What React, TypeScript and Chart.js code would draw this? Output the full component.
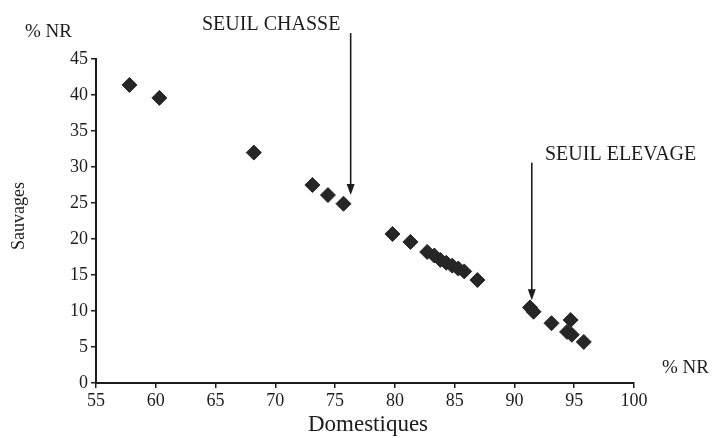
import React, { useEffect, useRef } from "react";
import { Chart, registerables } from "chart.js";

Chart.register(...registerables);

// Domestiques (% NR) vs Sauvages (% NR)
const domestiques = [57.8, 60.3, 68.2, 73.1, 74.4, 75.7, 79.8, 81.3, 82.7, 83.3, 83.8, 84.3, 84.8, 85.3, 85.8, 86.9, 91.3, 91.6, 93.1, 94.7, 94.4, 94.8, 95.8];
const sauvages = [41.4, 39.6, 32.0, 27.5, 26.1, 24.9, 20.7, 19.6, 18.2, 17.7, 17.1, 16.7, 16.3, 15.9, 15.5, 14.3, 10.5, 9.9, 8.3, 8.75, 7.1, 6.7, 5.7];

const xTicks = [55, 60, 65, 70, 75, 80, 85, 90, 95, 100];
const yTicks = [0, 5, 10, 15, 20, 25, 30, 35, 40, 45];

const thresholdLabels = ["SEUIL CHASSE", "SEUIL ELEVAGE"];
const thresholdX = [76.3, 91.45];
const thresholdTopY = [48.6, 30.6];
const thresholdTipY = [26.1, 11.5];

const FONT = "'Liberation Serif', 'DejaVu Serif', serif";
const INK = "#1c1c1c";

const annotations = {
  id: "annotations",
  afterDraw(chart: any) {
    const ctx = chart.ctx;
    const xs = chart.scales.x;
    const ys = chart.scales.y;
    ctx.save();
    ctx.fillStyle = INK;
    ctx.strokeStyle = INK;
    // axis unit labels
    ctx.font = `19px ${FONT}`;
    ctx.textBaseline = "middle";
    ctx.textAlign = "left";
    ctx.fillText("% NR", 25, 32);
    ctx.fillText("% NR", 662, 368);
    // axis titles
    ctx.font = `23px ${FONT}`;
    ctx.textAlign = "center";
    ctx.fillText("Domestiques", 368, 425);
    ctx.font = `18px ${FONT}`;
    ctx.save();
    ctx.translate(19, 216);
    ctx.rotate(-Math.PI / 2);
    ctx.fillText("Sauvages", 0, 0);
    ctx.restore();
    // thresholds
    const labelPos = [
      [202, 25],
      [545, 155],
    ];
    ctx.font = `20px ${FONT}`;
    ctx.textAlign = "left";
    thresholdLabels.forEach((lab, i) => {
      ctx.fillText(lab, labelPos[i][0], labelPos[i][1]);
      const px = xs.getPixelForValue(thresholdX[i]);
      const top = ys.getPixelForValue(thresholdTopY[i]);
      const tip = ys.getPixelForValue(thresholdTipY[i]);
      ctx.lineWidth = 1.6;
      ctx.beginPath();
      ctx.moveTo(px, top);
      ctx.lineTo(px, tip - 8);
      ctx.stroke();
      ctx.beginPath();
      ctx.moveTo(px, tip);
      ctx.lineTo(px - 4, tip - 11);
      ctx.lineTo(px + 4, tip - 11);
      ctx.closePath();
      ctx.fill();
    });
    ctx.restore();
  },
};

export default function App() {
  const ref = useRef<HTMLCanvasElement | null>(null);
  useEffect(() => {
    if (!ref.current) return;
    const pts = domestiques.map((x, i) => ({ x, y: sauvages[i] }));
    const chart = new Chart(ref.current, {
      type: "scatter",
      data: {
        datasets: [
          {
            data: pts,
            pointStyle: "rectRot",
            pointRadius: 7.5,
            pointBackgroundColor: "#262626",
            pointBorderColor: "#262626",
            pointBorderWidth: 1,
          },
        ],
      },
      options: {
        animation: false,
        responsive: false,
        layout: { padding: { left: 0, right: 78, top: 59, bottom: 0 } },
        plugins: { legend: { display: false }, tooltip: { enabled: false } },
        scales: {
          x: {
            type: "linear",
            min: 55,
            max: 100,
            afterFit: (s: any) => {
              s.height = 55;
            },
            afterBuildTicks: (s: any) => {
              s.ticks = xTicks.map((v) => ({ value: v }));
            },
            grid: { display: true, drawOnChartArea: false, drawTicks: true, tickLength: 5, color: INK, lineWidth: 1.5 },
            border: { display: true, color: INK, width: 2 },
            ticks: { color: INK, font: { family: FONT, size: 18 }, padding: 2, maxRotation: 0, autoSkip: false },
          },
          y: {
            type: "linear",
            min: 0,
            max: 45,
            afterFit: (s: any) => {
              s.width = 96;
            },
            afterBuildTicks: (s: any) => {
              s.ticks = yTicks.map((v) => ({ value: v }));
            },
            grid: { display: true, drawOnChartArea: false, drawTicks: true, tickLength: 5, color: INK, lineWidth: 1.5 },
            border: { display: true, color: INK, width: 2 },
            ticks: { color: INK, font: { family: FONT, size: 18 }, padding: 3, autoSkip: false },
          },
        },
      },
      plugins: [annotations],
    });
    return () => chart.destroy();
  }, []);
  return (
    <div style={{ position: "fixed", left: 0, top: 0, width: 712, height: 438, background: "#fff" }}>
      <canvas ref={ref} width={712} height={438} />
    </div>
  );
}
